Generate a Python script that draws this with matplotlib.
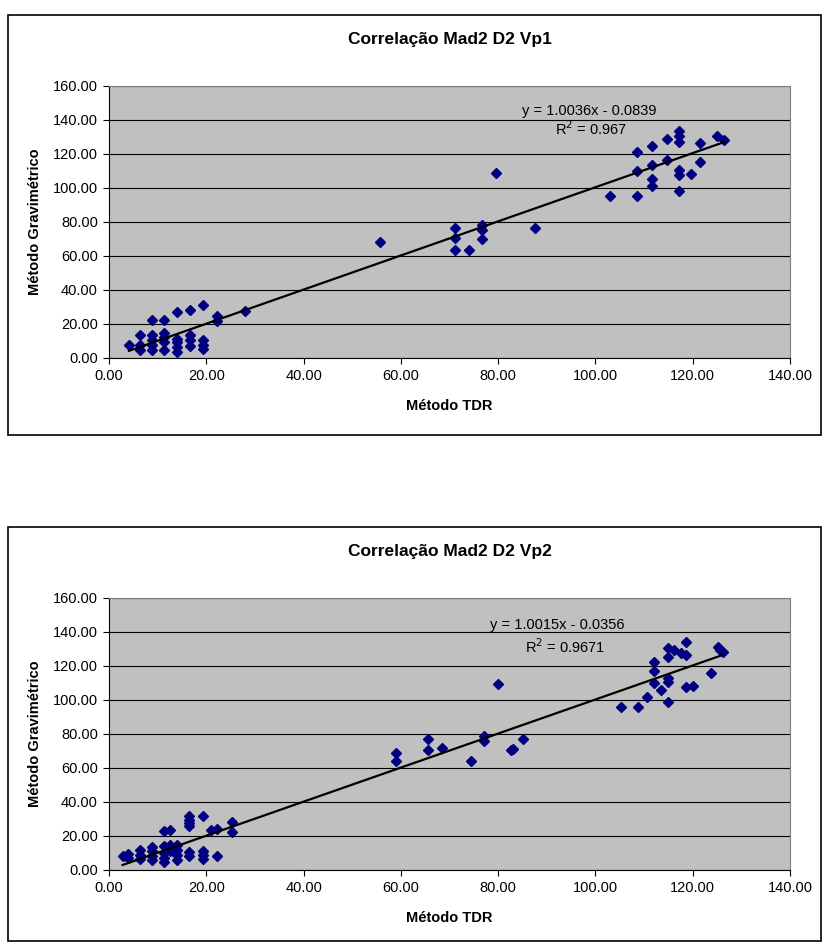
import numpy as np
import matplotlib
matplotlib.use("Agg")
import matplotlib.pyplot as plt
from matplotlib.patches import Rectangle
from matplotlib.ticker import FormatStrFormatter, MultipleLocator

plt.rcParams['font.family'] = ['Liberation Sans', 'DejaVu Sans']

# ---- data: chart 1 (Vp1)
vp1_tdr = [4.1, 6.3, 6.3, 6.3, 8.8, 8.8, 8.8, 8.8, 8.8, 11.4, 11.4, 11.4, 11.4, 11.4,
           14.0, 14.0, 14.0, 14.0, 14.0, 16.6, 16.6, 16.6, 16.6, 19.4, 19.4, 19.4, 19.4,
           22.1, 22.1, 27.9,
           55.8, 71.1, 71.1, 71.1, 74.0, 76.7, 76.7, 76.7, 79.5, 87.5,
           102.9, 108.6, 108.6, 108.6, 111.7, 111.7, 111.7, 111.7, 114.7, 114.7,
           117.1, 117.1, 117.1, 117.1, 117.1, 117.1, 119.6, 121.6, 121.6, 124.9, 126.4]
vp1_grav = [7.6, 13.5, 7.6, 4.7, 22.4, 13.5, 10.6, 7.6, 4.7, 22.4, 14.5, 12.0, 9.0, 4.7,
            26.7, 11.0, 9.0, 6.5, 3.1, 28.0, 13.5, 10.6, 7.0, 31.2, 10.6, 7.6, 5.3,
            24.7, 21.8, 27.6,
            68.2, 76.3, 70.4, 63.1, 63.1, 78.0, 75.1, 69.6, 108.4, 76.3,
            95.1, 95.1, 109.6, 121.2, 124.7, 113.3, 105.0, 100.8, 128.6, 116.2,
            133.5, 130.6, 126.7, 110.6, 107.6, 98.2, 108.0, 126.0, 114.9, 130.6, 128.0]
vp1_slope, vp1_icpt, vp1_r2 = 1.0036, -0.0839, "0.967"

# ---- data: chart 2 (Vp2)
vp2_tdr = [2.8, 4.0, 4.0, 6.3, 6.3, 6.3, 8.8, 8.8, 8.8, 8.8, 11.3, 11.3, 11.3, 11.3, 11.3,
           12.5, 12.5, 12.5, 13.9, 13.9, 13.9, 13.9, 16.5, 16.5, 16.5, 16.5, 16.5, 16.5,
           19.4, 19.4, 19.4, 19.4, 20.9, 22.3, 22.3, 25.3, 25.3,
           59.0, 59.0, 65.6, 65.6, 68.5, 74.4, 77.0, 77.0, 80.0, 82.6, 83.0, 85.2,
           105.2, 108.8, 110.5, 112.0, 112.0, 112.0, 113.4, 115.0, 115.0, 115.0, 115.0,
           115.0, 116.2, 117.6, 118.6, 118.6, 118.6, 120.0, 123.8, 125.1, 125.6, 126.2]
vp2_grav = [7.8, 9.4, 6.9, 11.4, 8.8, 6.3, 13.4, 10.8, 8.2, 5.9, 22.5, 13.7, 10.0, 7.0, 4.5,
            23.1, 14.7, 11.0, 14.7, 11.8, 8.8, 6.0, 31.8, 29.4, 27.5, 25.5, 10.4, 7.8,
            31.8, 11.0, 8.8, 6.5, 23.1, 23.9, 8.2, 28.2, 21.9,
            68.5, 63.7, 76.9, 70.6, 71.4, 63.7, 78.4, 75.5, 109.0, 70.6, 71.2, 76.9,
            95.7, 95.7, 101.4, 121.9, 116.7, 109.8, 105.9, 130.4, 125.1, 112.8, 110.2,
            98.4, 129.4, 127.5, 133.7, 126.5, 107.5, 108.2, 115.7, 131.0, 129.4, 127.8]
vp2_slope, vp2_icpt, vp2_r2 = 1.0015, -0.0356, "0.9671"

W, H = 822, 943
fig = plt.figure(figsize=(W / 100, H / 100), dpi=100)


def draw_chart(box_top, box_h, x, y, slope, icpt, r2, title, eq_xy, r2_xy):
    # outer chart border (px coords from top)
    fig.add_artist(Rectangle((8 / W, 1 - (box_top + box_h) / H), 813 / W, box_h / H,
                             transform=fig.transFigure, fill=False,
                             edgecolor='black', lw=1.2))
    plot_top = box_top + 70.7
    ax = fig.add_axes([109 / W, 1 - (plot_top + 272) / H, 681 / W, 272 / H])
    ax.set_facecolor('#C0C0C0')
    ax.set_xlim(0, 140)
    ax.set_ylim(0, 160)
    ax.xaxis.set_major_locator(MultipleLocator(20))
    ax.yaxis.set_major_locator(MultipleLocator(20))
    ax.xaxis.set_major_formatter(FormatStrFormatter('%.2f'))
    ax.yaxis.set_major_formatter(FormatStrFormatter('%.2f'))
    ax.grid(axis='y', color='black', lw=0.8)
    ax.set_axisbelow(True)
    for s in ['top', 'right']:
        ax.spines[s].set_color('#808080')
    ax.tick_params(direction='out', length=4, width=0.8, labelsize=10.5, pad=4)

    ax.plot(x, y, 'D', color='#000080', markersize=5, zorder=3)
    xs = np.array([min(x), max(x)])
    ax.plot(xs, slope * xs + icpt, color='black', lw=1.6, zorder=4)

    ax.text(eq_xy[0], eq_xy[1], f"y = {slope:.4f}x - {abs(icpt):.4f}",
            fontsize=10.5, va='center')
    ax.text(r2_xy[0], r2_xy[1], f"R$^2$ = {r2}", fontsize=10.5, va='center')

    ax.set_title(title, fontsize=12.5, fontweight='bold', pad=30)
    ax.set_xlabel("Método TDR", fontsize=10.5, fontweight='bold', labelpad=12)
    ax.set_ylabel("Método Gravimétrico", fontsize=10.5, fontweight='bold', labelpad=8)
    return ax


draw_chart(15, 420, vp1_tdr, vp1_grav, vp1_slope, vp1_icpt, vp1_r2,
           "Correlação Mad2 D2 Vp1", (85, 145), (91.6, 134.7))
draw_chart(527, 414, vp2_tdr, vp2_grav, vp2_slope, vp2_icpt, vp2_r2,
           "Correlação Mad2 D2 Vp2", (78.3, 144.1), (85.5, 131.3))

fig.savefig("out.png", dpi=100)
